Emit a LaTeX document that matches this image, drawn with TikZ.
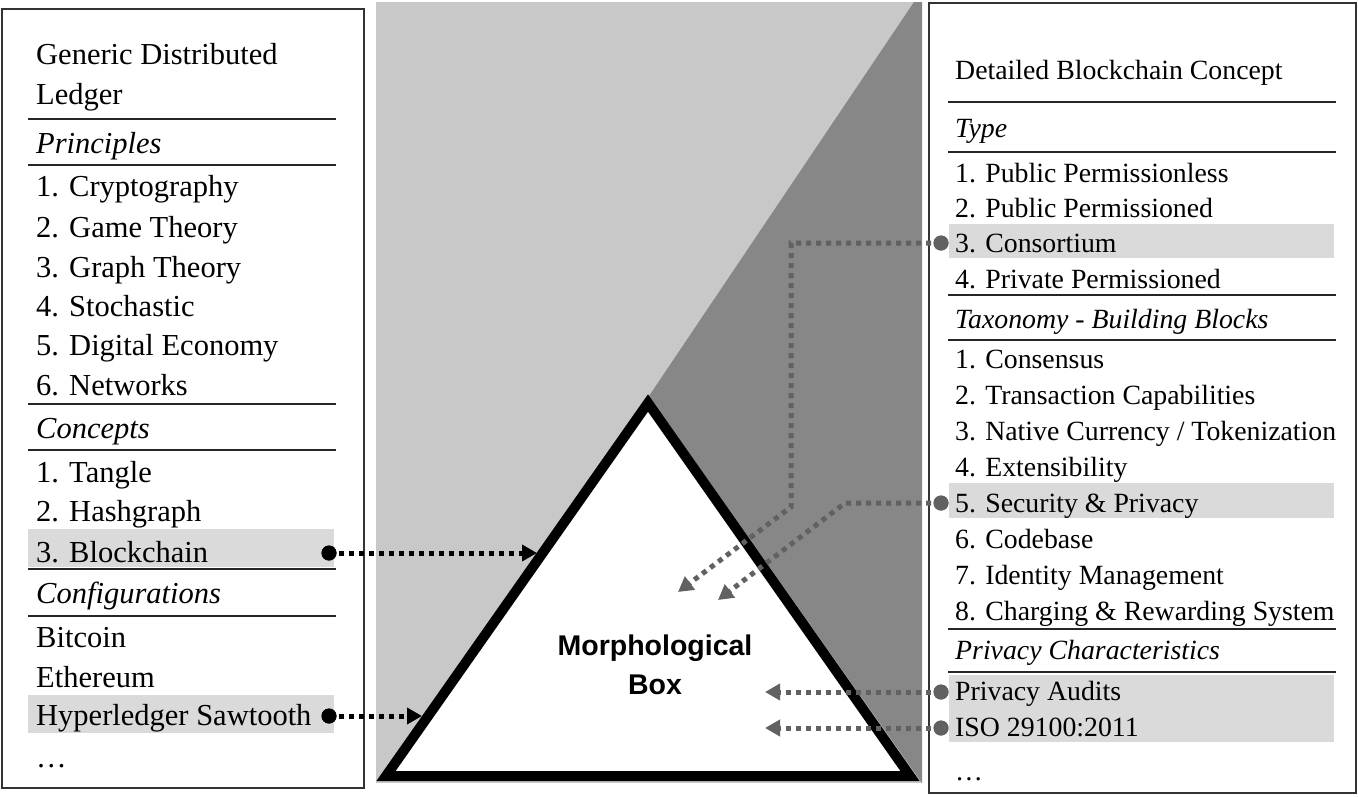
\documentclass[tikz,border=0pt]{standalone}
\usepackage{fontspec}
\setmainfont{Liberation Serif}
\newfontfamily\mbfont{Liberation Sans}
\usetikzlibrary{arrows.meta}
\definecolor{lgray}{HTML}{C8C8C8}
\definecolor{dgray}{HTML}{878787}
\definecolor{hgray}{HTML}{DADADA}
\definecolor{agray}{HTML}{616161}
\begin{document}
\begin{tikzpicture}[x=1pt,y=-1pt,
  ltxt/.style={anchor=base west,inner sep=0pt,font=\fontsize{30.5}{36}\selectfont},
  rtxt/.style={anchor=base west,inner sep=0pt,font=\fontsize{27.8}{33}\selectfont},
  sepline/.style={line width=2pt,draw=black!85},
  hl/.style={fill=hgray},
  frame/.style={draw=black!80,line width=2pt},
  dotline/.style={line width=5pt,dash pattern=on 5pt off 5pt},
  larrow/.style={dotline,draw=black,-{Triangle[length=15pt,width=16pt]}},
  rarrow/.style={dotline,draw=agray,-{Triangle[length=15pt,width=16pt]}},
  ldot/.style={circle,fill=black,inner sep=0pt,minimum size=15pt},
  rdot/.style={circle,fill=agray,inner sep=0pt,minimum size=15pt},
  mbtxt/.style={anchor=base,inner sep=0pt,font=\mbfont\bfseries\fontsize{28.5}{34}\selectfont},
]
\useasboundingbox (0,0) rectangle (1358,796);
\fill[white] (0,0) rectangle (1358,796);
% middle background
\fill[lgray] (376,2) rectangle (922,783);
\fill[dgray] (914,2) -- (922,2) -- (922,783) -- (649,396) -- cycle;
% triangle
\coordinate (apex) at (648,403);
\coordinate (bl) at (386,776);
\coordinate (br) at (910,776);
\draw[line width=10pt,line join=miter,fill=white] (apex) -- (br) -- (bl) -- cycle;
\node[mbtxt] (mb1) at (655,655) {Morphological};
\node[mbtxt] (mb2) at (655,694) {Box};

% left box
\draw[frame] (2,9) rectangle (364,788);
\fill[hl] (28,529) rectangle (334,567);
\fill[hl] (28,695) rectangle (334,733);
\foreach \y in {119,165,404,450,569,616} \draw[sepline] (28,\y) -- (336,\y);
\node[ltxt] (l0) at (36,64) {Generic Distributed};
\node[ltxt] (l0b) at (36,104) {Ledger};
\node[ltxt] (l1) at (36,153) {\itshape Principles};
\node[ltxt] (l2) at (36,196) {1. Cryptography};
\node[ltxt] (l3) at (36,237) {2. Game Theory};
\node[ltxt] (l4) at (36,277) {3. Graph Theory};
\node[ltxt] (l5) at (36,316) {4. Stochastic};
\node[ltxt] (l6) at (36,355) {5. Digital Economy};
\node[ltxt] (l7) at (36,395) {6. Networks};
\node[ltxt] (l8) at (36,438) {\itshape Concepts};
\node[ltxt] (l9) at (36,482) {1. Tangle};
\node[ltxt] (l10) at (36,521) {2. Hashgraph};
\node[ltxt] (l11) at (36,562) {3. Blockchain};
\node[ltxt] (l12) at (36,603) {\itshape Configurations};
\node[ltxt] (l13) at (36,647) {Bitcoin};
\node[ltxt] (l14) at (36,687) {Ethereum};
\node[ltxt] (l15) at (36,725) {Hyperledger Sawtooth};
\node[ltxt] (l16) at (36,767) {…};

% right box
\draw[frame] (929,3) rectangle (1356,793);
\fill[hl] (949,224) rectangle (1334,258);
\fill[hl] (949,483) rectangle (1334,518);
\fill[hl] (949,675) rectangle (1334,742);
\foreach \y in {102,152,295,340,629,672} \draw[sepline] (948,\y) -- (1336,\y);
\node[rtxt] (r0) at (955,79) {Detailed Blockchain Concept};
\node[rtxt] (r1) at (955,137) {\itshape Type};
\node[rtxt] (r2) at (955,182) {1. Public Permissionless};
\node[rtxt] (r3) at (955,217) {2. Public Permissioned};
\node[rtxt] (r4) at (955,252) {3. Consortium};
\node[rtxt] (r5) at (955,288) {4. Private Permissioned};
\node[rtxt] (r6) at (955,328) {\itshape Taxonomy - Building Blocks};
\node[rtxt] (r7) at (955,368) {1. Consensus};
\node[rtxt] (r8) at (955,404) {2. Transaction Capabilities};
\node[rtxt] (r9) at (955,440) {3. Native Currency / Tokenization};
\node[rtxt] (r10) at (955,476) {4. Extensibility};
\node[rtxt] (r11) at (955,512) {5. Security \& Privacy};
\node[rtxt] (r12) at (955,548) {6. Codebase};
\node[rtxt] (r13) at (955,584) {7. Identity Management};
\node[rtxt] (r14) at (955,620) {8. Charging \& Rewarding System};
\node[rtxt] (r15) at (955,659) {\itshape Privacy Characteristics};
\node[rtxt] (r16) at (955,700) {Privacy Audits};
\node[rtxt] (r17) at (955,736) {ISO 29100:2011};
\node[rtxt] (r18) at (955,780) {…};

% connector endpoints
\coordinate (tA) at (537,553);
\coordinate (tB) at (422,716);
\coordinate (tC) at (678,592);
\coordinate (tD) at (718,600);
\coordinate (tE) at (765,692);
\coordinate (tF) at (765,728);
\coordinate (kC1) at (791,243);
\coordinate (kC2) at (791,507);
\coordinate (kD1) at (845,503);

\node[ldot] (dA) at (329,553) {};
\node[ldot] (dB) at (329,716) {};
\node[rdot] (dC) at (941,243) {};
\node[rdot] (dD) at (941,503) {};
\node[rdot] (dE) at (941,692) {};
\node[rdot] (dF) at (941,728) {};

\draw[larrow] (dA.center) -- (tA);
\draw[larrow] (dB.center) -- (tB);
\draw[rarrow] (dC.center) -- (kC1) -- (kC2) -- (tC);
\draw[rarrow] (dD.center) -- (kD1) -- (tD);
\draw[rarrow] (dE.center) -- (tE);
\draw[rarrow] (dF.center) -- (tF);

\node[ldot] at (dA) {};
\node[ldot] at (dB) {};
\node[rdot] at (dC) {};
\node[rdot] at (dD) {};
\node[rdot] at (dE) {};
\node[rdot] at (dF) {};
\end{tikzpicture}
\end{document}
